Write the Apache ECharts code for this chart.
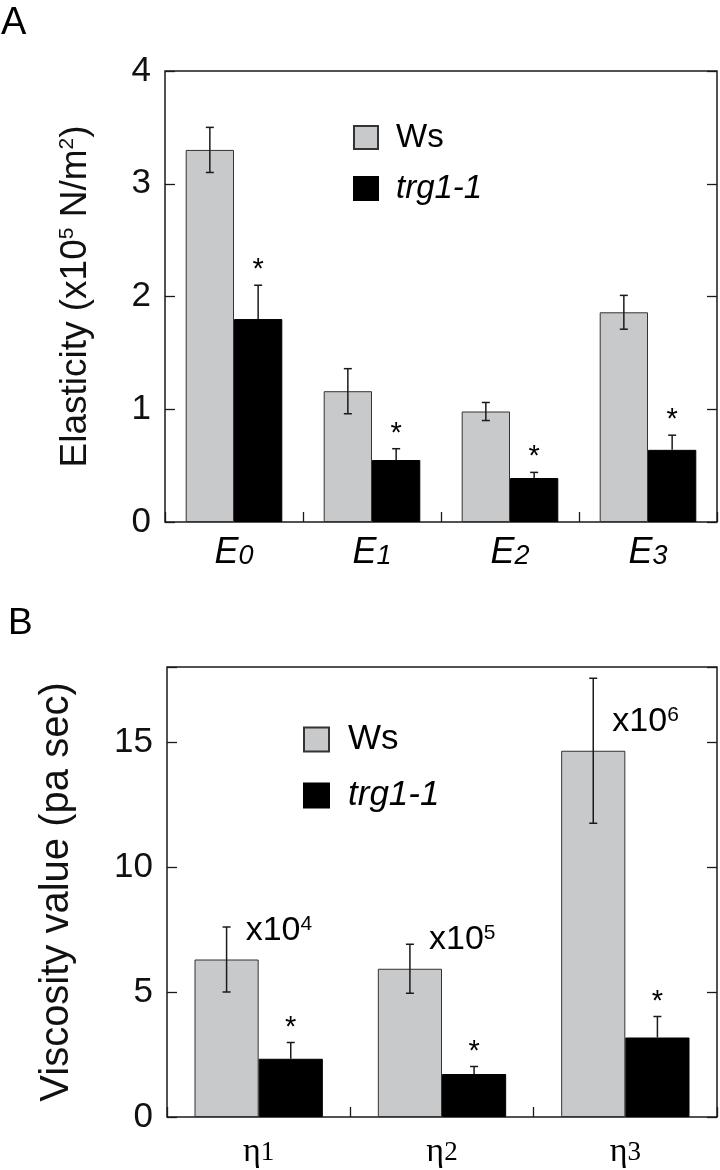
<!DOCTYPE html>
<html><head><meta charset="utf-8">
<script src="https://cdn.jsdelivr.net/npm/echarts@6/dist/echarts.min.js"></script>
<style>html,body{margin:0;padding:0;background:#fff}#c{width:720px;height:1170px}</style>
</head><body><div id="c"></div>
<script>
// ---------- data ----------
const catsA = ['E0', 'E1', 'E2', 'E3'];
const wsA = [3.30, 1.16, 0.98, 1.86];
const wsErrA = [0.20, 0.20, 0.08, 0.15];
const trgA = [1.80, 0.55, 0.39, 0.64];
const trgErrA = [0.30, 0.10, 0.05, 0.13];
const sigA = [1, 1, 1, 1];
const ticksA = [0, 1, 2, 3, 4];

const catsB = ['η1', 'η2', 'η3'];
const wsB = [6.30, 5.93, 14.65];
const wsErrB = [1.30, 0.98, 2.90];
const trgB = [2.33, 1.72, 3.18];
const trgErrB = [0.65, 0.30, 0.84];
const sigB = [1, 1, 1];
const ticksB = [0, 5, 10, 15];
const yMaxB = 18;
const scaleExpB = ['4', '5', '6'];

const seriesNames = ['Ws', 'trg1-1'];

// ---------- style ----------
const SANS = '"Liberation Sans", Arial, Helvetica, sans-serif';
const NARROW = '"Liberation Sans Narrow", "Liberation Sans", Arial, sans-serif';
const SERIF = '"Liberation Serif", "Times New Roman", serif';
const GRAY = '#c8c9cb';
const INK = '#1a1a1a';
const HALF = 0.175; // half of a bar width as share of band (barWidth 35%)

function errSeries(gi, vals, errs, sig, side, twoSided, notes) {
  return {
    type: 'custom', name: 'err' + gi + side, xAxisIndex: gi, yAxisIndex: gi * 2, z: 5,
    encode: { x: 0, y: 1 },
    data: vals.map((v, i) => [i, v, errs[i], sig ? sig[i] : 0]),
    renderItem: function (params, api) {
      const i = api.value(0), v = api.value(1), e = api.value(2), s = api.value(3);
      const band = api.size([1, 0])[0];
      const cx = api.coord([i, 0])[0] + side * band * HALF;
      const yv = api.coord([i, v])[1];
      const yt = api.coord([i, v + e])[1];
      const yb = twoSided ? api.coord([i, v - e])[1] : yv;
      const st = { stroke: INK, lineWidth: 1.5 };
      const ch = [
        { type: 'line', shape: { x1: cx, y1: yb, x2: cx, y2: yt }, style: st },
        { type: 'line', shape: { x1: cx - 4, y1: yt, x2: cx + 4, y2: yt }, style: st }
      ];
      if (twoSided) ch.push({ type: 'line', shape: { x1: cx - 4, y1: yb, x2: cx + 4, y2: yb }, style: st });
      if (s) ch.push({ type: 'text', style: { text: '*', x: cx, y: yt - 15, align: 'center', verticalAlign: 'middle', textAlign: 'center', textVerticalAlign: 'middle', font: '29px ' + SANS, fill: '#000' } });
      if (notes) {
        const center = api.coord([i, 0])[0];
        ch.push({ type: 'text', style: {
          text: '{m|x10}{s|' + notes[i] + '}', x: center - 13, y: yv - 12,
          align: 'left', verticalAlign: 'bottom', textAlign: 'left', textVerticalAlign: 'bottom',
          rich: {
            m: { fontSize: 34, fontFamily: SANS, lineHeight: 34, padding: [7, 0, 0, 0], verticalAlign: 'bottom', fill: '#000', color: '#000' },
            s: { fontSize: 21, fontFamily: SANS, lineHeight: 21, verticalAlign: 'top', fill: '#000', color: '#000' }
          }
        } });
      }
      return { type: 'group', children: ch };
    }
  };
}

function barSeries(gi, name, vals) {
  const isWs = name === seriesNames[0];
  return {
    type: 'bar', name: name, xAxisIndex: gi, yAxisIndex: gi * 2, data: vals,
    barWidth: '35%', barGap: '0%',
    itemStyle: isWs ? { color: GRAY, borderColor: '#333', borderWidth: 1 } : { color: '#000', borderColor: '#000', borderWidth: 1 },
    emphasis: { disabled: true }
  };
}

function yAxes(gi, min, max, step, nameGap, hideAbove) {
  const common = {
    type: 'value', gridIndex: gi, min: min, max: max, interval: step,
    splitLine: { show: false }, axisLine: { show: false },
    axisTick: { show: true, inside: true, length: 10, lineStyle: { color: INK, width: 1.3 } }
  };
  return [
    Object.assign({}, common, {
      position: 'left', nameLocation: 'middle', nameGap: nameGap,
      axisLabel: { fontSize: 35, fontFamily: SANS, color: '#111', margin: 14,
        formatter: v => (hideAbove !== undefined && v > hideAbove) ? '' : String(v) }
    }),
    Object.assign({}, common, { position: 'right', axisLabel: { show: false } })
  ];
}

const yA = yAxes(0, ticksA[0], ticksA[ticksA.length - 1], ticksA[1] - ticksA[0], 71);
yA[0].name = '{t|Elasticity (x10}{s|5}{t| N/m}{s|2}{t|)}';
yA[0].nameTextStyle = { rich: {
  t: { fontSize: 37, fontFamily: SANS, color: '#111', lineHeight: 37, padding: [7, 0, 0, 0], verticalAlign: 'bottom' },
  s: { fontSize: 21, fontFamily: SANS, color: '#111', lineHeight: 21, verticalAlign: 'top' }
} };

const yB = yAxes(1, ticksB[0], yMaxB, ticksB[1] - ticksB[0], 90, ticksB[ticksB.length - 1]);
yB[0].name = 'Viscosity value (pa sec)';
yB[0].nameTextStyle = { fontSize: 40, fontFamily: SANS, color: '#111' };

function xAxis(gi, cats, labelCfg) {
  return {
    type: 'category', gridIndex: gi, data: cats,
    axisLine: { show: false },
    axisTick: { show: true, inside: true, length: 10, lineStyle: { color: INK, width: 1.3 } },
    axisLabel: labelCfg
  };
}

const legendBase = (left, top, iw, ih, gap, fs, pad) => ({
  orient: 'vertical', left: left, top: top, itemWidth: iw, itemHeight: ih, itemGap: gap,
  icon: 'rect', padding: 0, selectedMode: false,
  data: seriesNames,
  formatter: n => n === seriesNames[1] ? '{i|' + n + '}' : '{n|' + n + '}',
  textStyle: {
    padding: [0, 0, 0, pad], lineHeight: ih,
    rich: {
      n: { fontSize: fs, fontFamily: SANS, color: '#000', lineHeight: ih },
      i: { fontSize: fs, fontFamily: SANS, fontStyle: 'italic', color: '#000', lineHeight: ih }
    }
  }
});

const option = {
  animation: false,
  backgroundColor: '#fff',
  title: [
    { text: 'A', left: 1, top: 5, padding: 0, textStyle: { fontSize: 38, fontWeight: 'normal', fontFamily: SANS, color: '#000' } },
    { text: 'B', left: 8, top: 605, padding: 0, textStyle: { fontSize: 37, fontWeight: 'normal', fontFamily: SANS, color: '#000' } }
  ],
  grid: [
    { left: 165, top: 71, width: 552, height: 451, show: true, borderColor: INK, borderWidth: 1.5, backgroundColor: 'transparent', outerBoundsMode: 'none', containLabel: false },
    { left: 167, top: 667, width: 550, height: 450, show: true, borderColor: INK, borderWidth: 1.5, backgroundColor: 'transparent', outerBoundsMode: 'none', containLabel: false }
  ],
  legend: [
    legendBase(353, 121, 24, 23, 18, 33, 13),
    legendBase(303, 722, 25, 24, 21, 35, 14)
  ],
  xAxis: [
    xAxis(0, catsA, {
      margin: 13, color: '#000',
      formatter: v => '{e|' + v.charAt(0) + '}{d|' + v.slice(1) + '}',
      rich: {
        e: { fontSize: 36, fontFamily: NARROW, fontStyle: 'italic', color: '#000', lineHeight: 36, verticalAlign: 'bottom' },
        d: { fontSize: 27, fontFamily: NARROW, fontStyle: 'italic', color: '#000', lineHeight: 27, verticalAlign: 'bottom', padding: [0, 0, 1, 0] }
      }
    }),
    xAxis(1, catsB, {
      margin: 18, color: '#000',
      formatter: v => '{g|' + v.charAt(0) + '}{d|' + v.slice(1) + '}',
      rich: {
        g: { fontSize: 34, fontFamily: SERIF, color: '#000', lineHeight: 34, verticalAlign: 'bottom' },
        d: { fontSize: 27, fontFamily: SERIF, color: '#000', lineHeight: 27, verticalAlign: 'bottom', padding: [0, 0, 3, 0] }
      }
    })
  ],
  yAxis: [yA[0], yA[1], yB[0], yB[1]],
  series: [
    barSeries(0, seriesNames[0], wsA),
    barSeries(0, seriesNames[1], trgA),
    errSeries(0, wsA, wsErrA, null, -1, true, null),
    errSeries(0, trgA, trgErrA, sigA, 1, false, null),
    barSeries(1, seriesNames[0], wsB),
    barSeries(1, seriesNames[1], trgB),
    errSeries(1, wsB, wsErrB, null, -1, true, scaleExpB),
    errSeries(1, trgB, trgErrB, sigB, 1, false, null)
  ]
};
option.series[4].yAxisIndex = 2; option.series[5].yAxisIndex = 2;
option.series[6].yAxisIndex = 2; option.series[7].yAxisIndex = 2;

const chart = echarts.init(document.getElementById('c'), null, { renderer: 'canvas' });
chart.setOption(option);
</script>
</body></html>
